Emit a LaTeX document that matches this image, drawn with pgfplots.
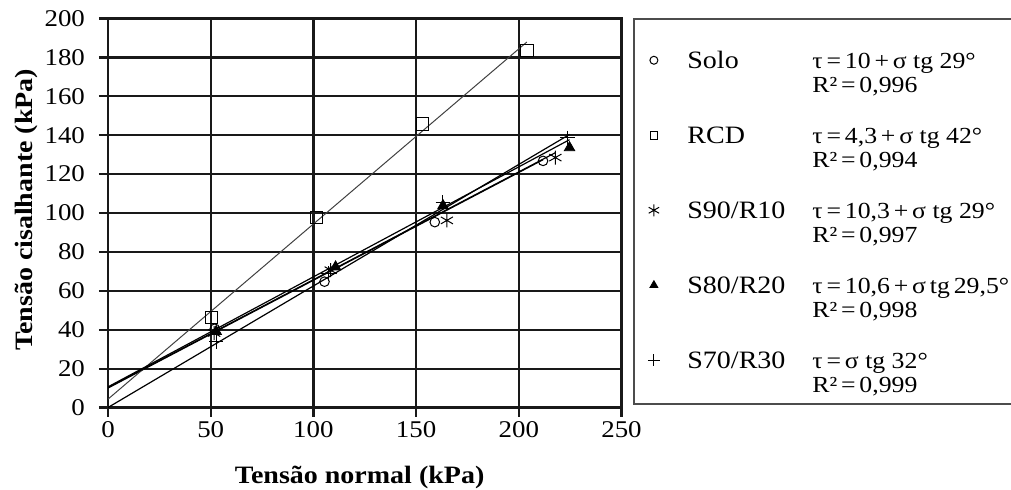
\documentclass[border=0pt]{standalone}
\usepackage{fontspec}
\setmainfont{Liberation Serif}[FakeStretch=1.12]
\usepackage{pgfplots}
\pgfplotsset{compat=1.18}
\newcommand{\entry}[3]{\makebox[62.5pt][l]{\fontsize{12.5}{12}\selectfont #1}\begin{tabular}[t]{@{}l@{}}#2\\#3\end{tabular}}
\pgfplotsset{
  mylegend/.style={legend image code/.code={\path (-9pt,0pt) (14.5pt,0pt); \draw[##1] plot coordinates {(0pt,4pt)};}},
  fitline/.style={black, line width=0.6pt, forget plot},
}
\begin{document}
\begin{tikzpicture}
\useasboundingbox (0,0) rectangle (505.5pt,244.5pt);
\begin{axis}[
  at={(54pt,40.75pt)}, anchor=south west,
  width=256.75pt, height=194.5pt, scale only axis,
  xmin=0, xmax=250, ymin=0, ymax=200,
  xtick={0,50,...,250}, ytick={0,20,...,200},
  grid=major, major grid style={black!90, line width=1.1pt},
  axis line style={black!90, line width=1.1pt},
  tick style={black!90, line width=1.1pt},
  tick align=outside, major tick length=4.5pt, tick pos=left,
  ticklabel style={font=\fontsize{12}{12}\selectfont},
  yticklabel style={xshift=-3.5pt},
  xticklabel style={yshift=1pt},
  /pgf/number format/assume math mode=true,
  xlabel={Tensão normal (kPa)},
  ylabel={Tensão cisalhante (kPa)},
  label style={font=\fontsize{12.5}{13}\selectfont\bfseries},
  xlabel style={at={(axis description cs:0.49,-0.18)}, anchor=center},
  ylabel style={at={(axis description cs:-0.158,0.508)}, anchor=center},
  legend style={at={(axis description cs:1.02629,0.928)}, anchor=north west,
    draw=none, fill=none, inner sep=0pt, row sep=23.6pt, column sep=0pt,
    font=\fontsize{11.5}{12}\selectfont,
    cells={anchor=base west, inner sep=0pt}},
]
% fitted lines
\addplot[fitline] coordinates {(0,10) (211.8,127.4)};
\addplot[fitline, black!75, line width=0.5pt] coordinates {(0,4.3) (203.9,187.9)};
\addplot[fitline] coordinates {(0,10.3) (217.8,131.0)};
\addplot[fitline] coordinates {(0,10.6) (224.7,137.7)};
\addplot[fitline] coordinates {(0,0) (224.7,140.4)};
% data
\addplot[only marks, mark=o, mark size=2.4pt, black, line width=0.5pt, mylegend,
  legend image post style={mark size=2pt}]
  coordinates {(52,40.5) (105.4,64.7) (159.1,95.3) (211.8,126.8)};
\addlegendentry{\entry{Solo}{τ\,=\,10\,+\,σ tg 29°}{R²\,=\,0,996}}
\addplot[only marks, mark=square, mark size=3.1pt, black, line width=0.5pt, mylegend,
  legend image post style={mark size=1.9pt}]
  coordinates {(50.3,46.3) (101.4,97.6) (153.1,145.8) (203.9,183.5)};
\addlegendentry{\entry{RCD}{τ\,=\,4,3\,+\,σ tg 42°}{R²\,=\,0,994}}
\addplot[only marks, mark=asterisk, mark size=3.5pt, black, line width=0.5pt, mylegend,
  legend image post style={mark size=3pt}]
  coordinates {(51.7,38.3) (108.4,70.6) (165,96.2) (217.8,128.5)};
\addlegendentry{\entry{S90/R10}{τ\,=\,10,3\,+\,σ tg 29°}{R²\,=\,0,997}}
\addplot[only marks, mark=triangle*, mark size=3pt, black, mylegend,
  legend image post style={mark size=2.3pt}]
  coordinates {(52.7,39.1) (110.8,72.3) (163.1,103.8) (224.7,133.6)};
\addlegendentry{\entry{S80/R20}{τ\,=\,10,6\,+\,σ\,tg\,29,5°}{R²\,=\,0,998}}
\addplot[only marks, mark=+, mark size=3.6pt, black, line width=0.5pt, mylegend,
  legend image post style={mark size=3pt}]
  coordinates {(52.7,34) (107.4,68.9) (163,105.5) (223.7,138.7)};
\addlegendentry{\entry{S70/R30}{τ\,=\,σ tg 32°}{R²\,=\,0,999}}
\end{axis}
\draw[black!70, line width=0.9pt] (317pt,42.5pt) rectangle (512pt,235pt);
\end{tikzpicture}
\end{document}
